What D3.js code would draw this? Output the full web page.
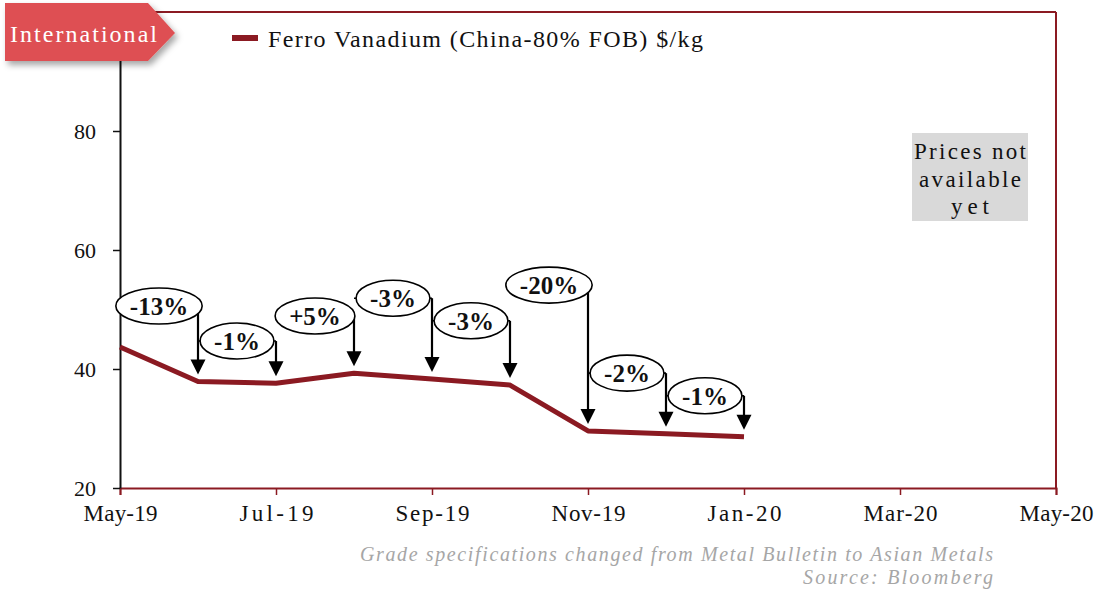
<!DOCTYPE html>
<html><head><meta charset="utf-8">
<script src="https://cdn.jsdelivr.net/npm/d3@7"></script>
<style>body{margin:0;background:#fff;} svg{display:block;}</style>
</head><body>
<script>
// ---- data ----
const months = ["May-19","Jun-19","Jul-19","Aug-19","Sep-19","Oct-19","Nov-19","Dec-19","Jan-20"];
const prices = [43.7, 37.9, 37.6, 39.3, 38.3, 37.3, 29.6, 29.1, 28.6];
const changeLabels = ["-13%","-1%","+5%","-3%","-3%","-20%","-2%","-1%"];
const tickLabels = ["May-19","Jul-19","Sep-19","Nov-19","Jan-20","Mar-20","May-20"];
const yTicks = [20, 40, 60, 80];
const seriesName = "Ferro Vanadium (China-80% FOB) $/kg";
// callout levels (layout, in axis units)
const calloutLevels = [50.6, 44.7, 48.9, 51.9, 48.1, 54.1, 39.3, 35.5];

const W = 1099, H = 590;
const svg = d3.select("body").append("svg").attr("width", W).attr("height", H);
const x = d3.scaleLinear().domain([0, 12]).range([120, 1056]);
const y = d3.scaleLinear().domain([20, 100]).range([488, 12]);
const red = "#8B1A22";
const serif = "'Liberation Serif', 'DejaVu Serif', serif";

const defs = svg.append("defs");
const f = defs.append("filter").attr("id","sh").attr("x","-20%").attr("y","-20%").attr("width","140%").attr("height","160%");
f.append("feDropShadow").attr("dx",3).attr("dy",4).attr("stdDeviation",3).attr("flood-color","#000").attr("flood-opacity",0.35);

// frame
svg.append("line").attr("x1", x(0)).attr("x2", x(12)).attr("y1", y(100)).attr("y2", y(100)).attr("stroke", red).attr("stroke-width", 2);
svg.append("line").attr("x1", x(12)).attr("x2", x(12)).attr("y1", y(100)).attr("y2", y(20)).attr("stroke", red).attr("stroke-width", 2);

// x axis
const xAxis = d3.axisBottom(x).tickValues(d3.range(0, 13, 2)).tickSize(7).tickFormat((d,i) => tickLabels[i]);
const gx = svg.append("g").attr("transform", `translate(0,${y(20)})`).call(xAxis);
gx.select(".domain").attr("stroke", red).attr("stroke-width", 2);
gx.selectAll(".tick line").attr("stroke", red).attr("stroke-width", 1.5);
gx.selectAll(".tick text").attr("font-family", serif).attr("font-size", 23).attr("fill", "#111").attr("dy", "1.0em")
  .attr("textLength", 74).attr("lengthAdjust", "spacing");

// y axis
const yAxis = d3.axisLeft(y).tickValues(yTicks).tickSize(7).tickSizeOuter(0);
const gy = svg.append("g").attr("transform", `translate(${x(0)},0)`).call(yAxis);
gy.select(".domain").attr("stroke", "#111").attr("stroke-width", 2);
gy.selectAll(".tick line").attr("stroke", "#111").attr("stroke-width", 1.5);
gy.selectAll(".tick text").attr("font-family", serif).attr("font-size", 22).attr("fill", "#111").attr("x", -24);

// series line
svg.append("path").datum(prices)
  .attr("d", d3.line().x((d,i) => x(i)).y(d => y(d)))
  .attr("fill", "none").attr("stroke", red).attr("stroke-width", 5).attr("stroke-linejoin","round");

// callouts
const cg = svg.append("g");
changeLabels.forEach((lab, i) => {
  const cy = y(calloutLevels[i]);
  const x0 = x(i), x1 = x(i + 1);
  const tip = y(prices[i + 1]) - 7;
  cg.append("line").attr("x1", x0).attr("x2", x1).attr("y1", cy).attr("y2", cy).attr("stroke", "#000").attr("stroke-width", 1.6);
  cg.append("line").attr("x1", x1).attr("x2", x1).attr("y1", cy).attr("y2", tip - 12).attr("stroke", "#000").attr("stroke-width", 2.2);
  cg.append("path").attr("d", `M${x1-7.5},${tip-15}L${x1+7.5},${tip-15}L${x1},${tip}Z`).attr("fill", "#000");
});
changeLabels.forEach((lab, i) => {
  const cy = y(calloutLevels[i]);
  const cx = (x(i) + x(i + 1)) / 2;
  const g = cg.append("g");
  const el = g.append("ellipse").attr("cx", cx).attr("cy", cy).attr("fill", "#fff").attr("stroke", "#000").attr("stroke-width", 1.6);
  const t = g.append("text").attr("x", cx).attr("y", cy).attr("dy", "0.35em").attr("text-anchor", "middle")
    .attr("font-family", serif).attr("font-weight", "bold").attr("font-size", 25).attr("fill", "#111").text(lab);
  const w = t.node().getComputedTextLength();
  el.attr("rx", w / 2 + 14).attr("ry", 18);
});

// International tag
const tag = svg.append("g");
tag.append("path").attr("d", "M5,3L148,3L175,33L148,61L5,61Z").attr("fill", "#DE5052").attr("filter", "url(#sh)");
tag.append("text").attr("x", 10).attr("y", 42).attr("font-family", serif).attr("font-size", 24).attr("fill", "#fff")
  .attr("textLength", 147).attr("lengthAdjust", "spacing").text("International");

// legend
svg.append("line").attr("x1", 232).attr("x2", 258).attr("y1", 38).attr("y2", 38).attr("stroke", red).attr("stroke-width", 6);
svg.append("text").attr("x", 268).attr("y", 47).attr("font-family", serif).attr("font-size", 24).attr("fill", "#111")
  .attr("textLength", 435).attr("lengthAdjust", "spacing").text(seriesName);

// prices not available box
svg.append("rect").attr("x", 912).attr("y", 133).attr("width", 116).attr("height", 88).attr("fill", "#D9D9D9");
const pt = svg.append("text").attr("text-anchor", "middle").attr("font-family", serif).attr("font-size", 23).attr("fill", "#111");
const boxLines = ["Prices not", "available", "yet"];
const boxLens = [112, 102, 38];
boxLines.forEach((s, i) => {
  pt.append("tspan").attr("x", 970).attr("y", 159 + i * 27.5).attr("textLength", boxLens[i]).attr("lengthAdjust", "spacing").text(s);
});

// footnotes
const fnStyle = s => s.attr("text-anchor", "end").attr("font-family", serif).attr("font-style", "italic").attr("font-size", 20).attr("fill", "#A6A6A6").attr("lengthAdjust", "spacing");
fnStyle(svg.append("text")).attr("x", 993).attr("y", 561).attr("textLength", 633).text("Grade specifications changed from Metal Bulletin to Asian Metals");
fnStyle(svg.append("text")).attr("x", 993).attr("y", 584).attr("textLength", 190).text("Source: Bloomberg");
</script>
</body></html>
